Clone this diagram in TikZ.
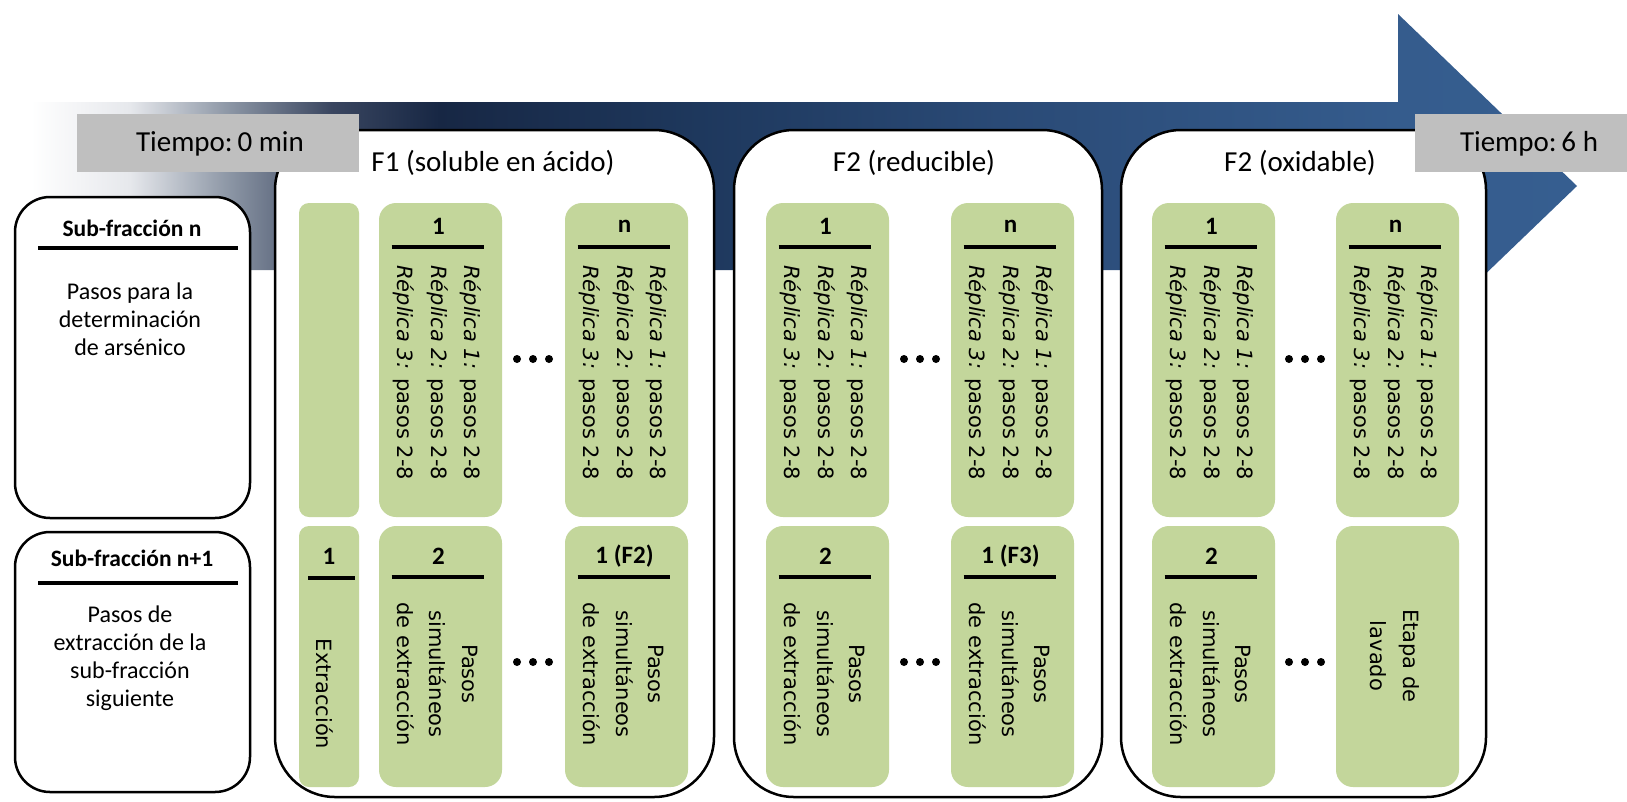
\documentclass[tikz,border=0pt]{standalone}
\usepackage{fontspec}
\setmainfont{Carlito}
\newfontfamily\dvs{DejaVu Sans}

\definecolor{stepgreen}{HTML}{C3D69B}
\definecolor{timegray}{HTML}{BFBFBF}
\definecolor{fadeA}{HTML}{E6E8EC}
\definecolor{fadeB}{HTML}{8C96A5}
\definecolor{fadeC}{HTML}{3A4660}
\definecolor{navyA}{HTML}{172744}
\definecolor{navyB}{HTML}{1E385D}
\definecolor{navyC}{HTML}{2A4A76}
\definecolor{navyD}{HTML}{355C8D}
\definecolor{navyE}{HTML}{365E90}

% time axis: fades in from white, deepens to navy, then lightens toward the head
\pgfdeclarehorizontalshading{timearrow}{100bp}{%
  color(0bp)=(white); color(25bp)=(white); color(28.2bp)=(fadeA);
  color(31.4bp)=(fadeB); color(34.7bp)=(fadeC); color(38.2bp)=(navyA);
  color(46.6bp)=(navyB); color(56.3bp)=(navyC); color(69.2bp)=(navyD);
  color(75bp)=(navyE); color(100bp)=(navyE)}

\tikzset{
  bigbox/.style={draw=black, line width=2.5pt, fill=white, rounded corners=60pt},
  sidebox/.style={draw=black, line width=2.5pt, fill=white, rounded corners=35pt},
  greencol/.style={fill=stepgreen, rounded corners=17pt},
  narrowcol/.style={fill=stepgreen, rounded corners=10pt},
  timebox/.style={fill=timegray},
  rulebar/.style={line width=3.5pt, black},
  timetext/.style={inner sep=0, font=\fontsize{29}{32}\selectfont},
  titletext/.style={inner sep=0, font=\fontsize{29}{33}\selectfont},
  sidehead/.style={inner sep=0, font=\fontsize{23.5}{27}\selectfont\bfseries},
  sidebody/.style={inner sep=0, align=center, font=\fontsize{24}{28}\selectfont},
  colhead/.style={inner sep=0, font=\fontsize{25}{28}\selectfont\bfseries},
  replist/.style={rotate=-90, anchor=west, align=left, inner sep=0,
    font=\dvs\fontsize{21}{33.5}\selectfont},
  rotcenter/.style={rotate=-90, align=center, inner sep=0,
    font=\dvs\fontsize{21}{32.5}\selectfont},
  dotmark/.style={fill=black}
}

\newcommand{\replicas}{\textit{Réplica 1:} pasos 2-8\\\textit{Réplica 2:} pasos 2-8\\\textit{Réplica 3:} pasos 2-8}
\newcommand{\simpasos}{Pasos\\simultáneos\\de extracción}

\begin{document}
\begin{tikzpicture}[x=1pt, y=-1pt]
\useasboundingbox (0,0) rectangle (1627,801);

% time arrow
\path[shading=timearrow] (31,102) -- (1398,102) -- (1398,14) -- (1577,186)
  -- (1398,358) -- (1398,270) -- (31,270) -- cycle;

% fraction panels
\draw[bigbox] (275,130) rectangle (714,797);
\draw[bigbox] (734,130) rectangle (1102,797);
\draw[bigbox] (1121,130) rectangle (1486,797);

% legend panels
\draw[sidebox] (15,197) rectangle (250,518);
\draw[sidebox] (15,532) rectangle (250,792);

% time labels
\fill[timebox] (77,114) rectangle (359,172);
\fill[timebox] (1415,114) rectangle (1627,172);
\node[timetext] (t0) at (220,144) {Tiempo:\,0 min};
\node[timetext] (t6) at (1529,144) {Tiempo:\,6 h};

% panel titles
\node[titletext] (f1) at (493,163) {F1 (soluble en ácido)};
\node[titletext] (f2) at (914,163) {F2 (reducible)};
\node[titletext] (f3) at (1300,163) {F2 (oxidable)};

% legend contents
\node[sidehead] (sa) at (132,228) {Sub-fracción n};
\draw[rulebar] (38,248) -- (238,248);
\node[sidebody] (sab) at (130,319) {Pasos para la\\determinación\\de arsénico};
\node[sidehead] (sb) at (132,558) {Sub-fracción n+1};
\draw[rulebar] (38,583) -- (238,583);
\node[sidebody] (sbb) at (130,658) {Pasos de\\extracción de la\\sub-fracción\\siguiente};

% green step columns, top row
\fill[narrowcol] (299,203) rectangle (359,517);
\foreach \xa in {379,565,766,951,1152,1336}
  \fill[greencol] (\xa,203) rectangle ({\xa+123},517);
% green step columns, bottom row
\fill[narrowcol] (299,526) rectangle (359,787);
\foreach \xa in {379,565,766,951,1152,1336}
  \fill[greencol] (\xa,526) rectangle ({\xa+123},787);

% header rules
\foreach \cx in {440.5,626.5,827.5,1012.5,1213.5,1397.5}
  \draw[rulebar] ({\cx-49},247) -- ({\cx+43},247);
\foreach \cx in {440.5,626.5,827.5,1012.5,1213.5}
  \draw[rulebar] ({\cx-49},577) -- ({\cx+43},577);
\draw[rulebar] (308,578) -- (355,578);

% top row: replicate determinations
\node[colhead] (a1) at (438.5,226) {1};
\node[colhead] (an) at (624.5,226) {n};
\node[colhead] (b1) at (825.5,226) {1};
\node[colhead] (bn) at (1010.5,226) {n};
\node[colhead] (c1) at (1211.5,226) {1};
\node[colhead] (cn) at (1395.5,226) {n};
\node[replist] (a1r) at (437.5,265) {\replicas};
\node[replist] (anr) at (623.5,265) {\replicas};
\node[replist] (b1r) at (824.5,265) {\replicas};
\node[replist] (bnr) at (1009.5,265) {\replicas};
\node[replist] (c1r) at (1210.5,265) {\replicas};
\node[replist] (cnr) at (1394.5,265) {\replicas};

% bottom row: extraction steps
\node[colhead] (x1) at (329,556) {1};
\node[rotcenter] (x1t) at (325,694) {Extracción};
\node[colhead] (a2) at (438.5,556) {2};
\node[colhead] (af) at (624.5,556) {1 (F2)};
\node[colhead] (b2) at (825.5,556) {2};
\node[colhead] (bf) at (1010.5,556) {1 (F3)};
\node[colhead] (c2) at (1211.5,556) {2};
\node[rotcenter] (a2t) at (437.5,674) {\simpasos};
\node[rotcenter] (aft) at (623.5,674) {\simpasos};
\node[rotcenter] (b2t) at (824.5,674) {\simpasos};
\node[rotcenter] (bft) at (1009.5,674) {\simpasos};
\node[rotcenter] (c2t) at (1210.5,674) {\simpasos};
\node[rotcenter] (cwt) at (1395,656) {Etapa de\\lavado};

% ellipsis dots between columns
\foreach \dx in {533,920,1305}
  \foreach \dy in {359,662}
    \foreach \k in {-16,0,16}
      \fill[dotmark] ({\dx+\k},\dy) circle[radius=4pt];
\end{tikzpicture}
\end{document}
